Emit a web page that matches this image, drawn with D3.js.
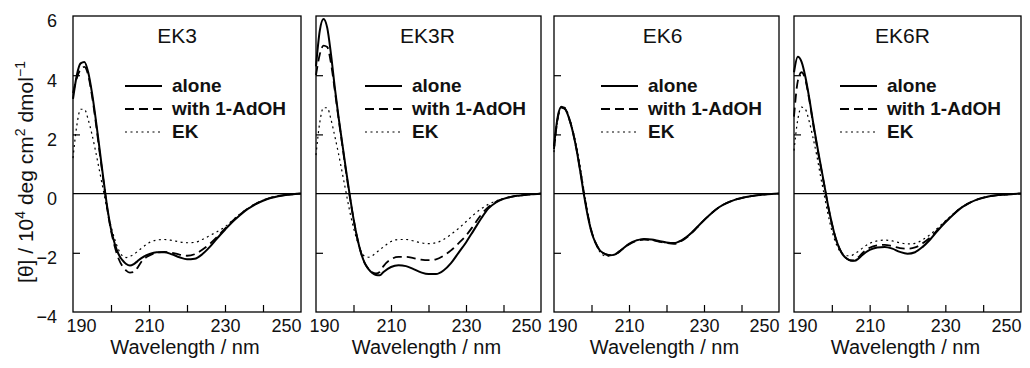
<!DOCTYPE html>
<html>
<head>
<meta charset="utf-8">
<script src="https://cdn.jsdelivr.net/npm/d3@7"></script>
<style>
  body { margin: 0; background: #fff; }
  svg { display: block; font-family: "Liberation Sans", Arial, sans-serif; }
</style>
</head>
<body>
<svg id="chart" width="1030" height="368"></svg>
<script>
// wavelength grid (nm) shared by every curve
const wavelengths = [190, 191, 192, 193, 194, 195, 196, 197, 198, 199, 200, 201, 202, 203, 204, 205, 206, 207, 208,
  210, 212, 214, 216, 218, 220, 222, 224, 226, 228, 230, 232, 234, 236, 238, 240, 242, 244, 246, 248, 250];

const panelTitles = ["EK3", "EK3R", "EK6", "EK6R"];
const seriesNames = ["alone", "with 1-AdOH", "EK"];

// [θ] / 10^4 deg cm2 dmol-1
const ek3Alone = [3.2, 4.0, 4.4, 4.45, 4.1, 3.4, 2.5, 1.5, 0.5, -0.45, -1.2, -1.7, -2.05, -2.25, -2.38, -2.43, -2.38, -2.28, -2.18,
  -2.05, -1.98, -1.98, -2.05, -2.15, -2.22, -2.2, -2.05, -1.8, -1.5, -1.22, -0.95, -0.72, -0.52, -0.36, -0.24, -0.15, -0.09, -0.05, -0.02, 0];
const ek3Adoh = [3.4, 3.9, 4.2, 4.28, 4.0, 3.3, 2.4, 1.4, 0.45, -0.5, -1.25, -1.8, -2.2, -2.45, -2.6, -2.67, -2.65, -2.5, -2.3,
  -2.1, -2.0, -1.97, -2.0, -2.06, -2.1, -2.05, -1.9, -1.7, -1.45, -1.18, -0.92, -0.7, -0.5, -0.35, -0.23, -0.14, -0.08, -0.04, -0.02, 0];
const ek3Ek = [1.2, 2.3, 2.85, 2.85, 2.5, 2.0, 1.4, 0.75, 0.1, -0.55, -1.1, -1.55, -1.9, -2.1, -2.16, -2.12, -2.05, -1.95, -1.85,
  -1.66, -1.57, -1.55, -1.58, -1.63, -1.66, -1.65, -1.55, -1.42, -1.28, -1.12, -0.9, -0.68, -0.5, -0.35, -0.23, -0.14, -0.08, -0.04, -0.02, 0];

const ek3rAlone = [4.3, 5.5, 5.9, 5.6, 4.7, 3.6, 2.6, 1.7, 0.8, -0.05, -0.85, -1.5, -2.0, -2.35, -2.55, -2.68, -2.75, -2.76, -2.65,
  -2.48, -2.42, -2.45, -2.55, -2.66, -2.72, -2.72, -2.6, -2.35, -2.0, -1.65, -1.25, -0.85, -0.5, -0.3, -0.18, -0.11, -0.07, -0.04, -0.02, 0];
const ek3rAdoh = [4.0, 4.7, 5.0, 4.95, 4.4, 3.5, 2.55, 1.65, 0.75, -0.1, -0.85, -1.5, -2.0, -2.35, -2.55, -2.66, -2.7, -2.65, -2.45,
  -2.22, -2.14, -2.14, -2.18, -2.23, -2.25, -2.22, -2.1, -1.92, -1.68, -1.42, -1.08, -0.72, -0.45, -0.28, -0.17, -0.11, -0.07, -0.04, -0.02, 0];
const ek3rEk = [1.3, 2.4, 2.9, 2.9, 2.5, 1.95, 1.35, 0.7, 0.05, -0.6, -1.15, -1.6, -1.95, -2.12, -2.15, -2.1, -2.0, -1.9, -1.8,
  -1.62, -1.55, -1.55, -1.6, -1.66, -1.69, -1.66, -1.55, -1.38, -1.18, -0.95, -0.72, -0.52, -0.36, -0.25, -0.17, -0.11, -0.07, -0.04, -0.02, 0];

const ek6Alone = [1.6, 2.6, 2.93, 2.85, 2.55, 2.1, 1.5, 0.75, -0.05, -0.75, -1.3, -1.65, -1.88, -2.0, -2.06, -2.08, -2.07, -2.0, -1.9,
  -1.7, -1.58, -1.53, -1.55, -1.6, -1.65, -1.67, -1.58, -1.4, -1.15, -0.9, -0.66, -0.46, -0.32, -0.22, -0.15, -0.1, -0.06, -0.03, -0.01, 0];
const ek6Adoh = [1.5, 2.55, 2.9, 2.85, 2.55, 2.1, 1.5, 0.78, 0.0, -0.7, -1.27, -1.63, -1.87, -2.0, -2.06, -2.08, -2.06, -2.0, -1.9,
  -1.72, -1.6, -1.55, -1.57, -1.62, -1.67, -1.7, -1.6, -1.42, -1.17, -0.9, -0.66, -0.46, -0.32, -0.22, -0.15, -0.1, -0.06, -0.03, -0.01, 0];
const ek6Ek = [1.4, 2.5, 2.95, 2.9, 2.6, 2.15, 1.6, 0.9, 0.1, -0.65, -1.25, -1.65, -1.92, -2.07, -2.12, -2.1, -2.05, -1.97, -1.88,
  -1.7, -1.58, -1.55, -1.57, -1.62, -1.66, -1.68, -1.58, -1.4, -1.15, -0.9, -0.66, -0.46, -0.32, -0.22, -0.15, -0.1, -0.06, -0.03, -0.01, 0];

const ek6rAlone = [4.1, 4.62, 4.45, 3.95, 3.25, 2.45, 1.7, 1.0, 0.3, -0.4, -1.0, -1.5, -1.85, -2.08, -2.2, -2.26, -2.27, -2.2, -2.08,
  -1.9, -1.82, -1.8, -1.86, -1.97, -2.03, -1.98, -1.8, -1.55, -1.25, -0.97, -0.72, -0.5, -0.34, -0.22, -0.14, -0.08, -0.05, -0.03, -0.01, 0];
const ek6rAdoh = [2.6, 3.8, 4.1, 3.85, 3.2, 2.4, 1.65, 0.95, 0.28, -0.42, -1.02, -1.5, -1.85, -2.08, -2.2, -2.26, -2.25, -2.15, -2.02,
  -1.83, -1.75, -1.73, -1.78, -1.84, -1.86, -1.82, -1.68, -1.48, -1.22, -0.96, -0.72, -0.5, -0.34, -0.22, -0.14, -0.08, -0.05, -0.03, -0.01, 0];
const ek6rEk = [1.45, 2.5, 2.92, 2.85, 2.45, 1.9, 1.3, 0.6, -0.05, -0.7, -1.25, -1.65, -1.92, -2.05, -2.1, -2.1, -2.03, -1.95, -1.85,
  -1.68, -1.6, -1.57, -1.6, -1.66, -1.7, -1.68, -1.56, -1.38, -1.16, -0.92, -0.7, -0.49, -0.33, -0.22, -0.14, -0.08, -0.05, -0.03, -0.01, 0];

const panelSeries = [
  [ek3Alone, ek3Adoh, ek3Ek],
  [ek3rAlone, ek3rAdoh, ek3rEk],
  [ek6Alone, ek6Adoh, ek6Ek],
  [ek6rAlone, ek6rAdoh, ek6rEk]
];

const xLabelTicks = [190, 210, 230, 250];
const xInnerTicks = [200, 210, 220, 230, 240];
const yLabelTicks = [-4, -2, 0, 2, 4, 6];
const yInnerTicks = [-2, 2, 4];

// layout
const panelBounds = [[73, 301], [316, 541], [554, 779], [794, 1021]];
const titleShift = [-10, -1, -4, -5];
const legendLeft = [52, 49, 47, 46];
const plotTop = 16, plotBottom = 312;
const lineStyles = [
  { width: 2, dash: null },
  { width: 1.8, dash: "9,5" },
  { width: 1.2, dash: "2,3.5" }
];

const svg = d3.select("#chart");

const y = d3.scaleLinear().domain([-4, 6]).range([plotBottom, plotTop]);

panelTitles.forEach((title, p) => {
  const [x0, x1] = panelBounds[p];
  const x = d3.scaleLinear().domain([190, 250]).range([x0, x1]);
  const g = svg.append("g");

  // zero line
  g.append("line")
    .attr("x1", x0).attr("x2", x1)
    .attr("y1", y(0)).attr("y2", y(0))
    .attr("stroke", "#000").attr("stroke-width", 1.1);

  // inward ticks
  const xt = g.append("g")
    .attr("transform", "translate(0," + plotBottom + ")")
    .call(d3.axisBottom(x).tickValues(xInnerTicks).tickSize(-7).tickFormat(""));
  xt.select(".domain").remove();
  xt.selectAll("line").attr("stroke-width", 1.2);

  const yt = g.append("g")
    .attr("transform", "translate(" + x0 + ",0)")
    .call(d3.axisLeft(y).tickValues(yInnerTicks).tickSize(-7).tickFormat(""));
  yt.select(".domain").remove();
  yt.selectAll("line").attr("stroke-width", 1.2);

  // x tick labels
  const xl = g.append("g")
    .attr("transform", "translate(0," + plotBottom + ")")
    .call(d3.axisBottom(x).tickValues(xLabelTicks).tickSize(0).tickPadding(7).tickFormat(d3.format("d")));
  xl.select(".domain").remove();
  xl.selectAll("text")
    .attr("font-size", 18)
    .attr("font-family", "Liberation Sans, Arial, sans-serif")
    .attr("fill", "#111")
    .attr("dx", d => d === 190 ? 8 : (d === 250 ? -15 : 0));

  // y tick labels on the first panel only
  if (p === 0) {
    const yl = g.append("g")
      .attr("transform", "translate(" + x0 + ",0)")
      .call(d3.axisLeft(y).tickValues(yLabelTicks).tickSize(0).tickPadding(16).tickFormat(d3.format("d")));
    yl.select(".domain").remove();
    yl.selectAll("text")
      .attr("font-size", 18)
      .attr("font-family", "Liberation Sans, Arial, sans-serif")
      .attr("fill", "#111")
      .attr("dy", "0.6em");
  }

  // curves
  const line = d3.line()
    .x((d, i) => x(wavelengths[i]))
    .y(d => y(d))
    .curve(d3.curveMonotoneX);

  panelSeries[p].forEach((values, s) => {
    g.append("path")
      .datum(values)
      .attr("d", line)
      .attr("fill", "none")
      .attr("stroke", "#000")
      .attr("stroke-width", lineStyles[s].width)
      .attr("stroke-dasharray", lineStyles[s].dash);
  });

  // frame
  g.append("rect")
    .attr("x", x0).attr("y", plotTop)
    .attr("width", x1 - x0).attr("height", plotBottom - plotTop)
    .attr("fill", "none").attr("stroke", "#000").attr("stroke-width", 1.3);

  // title
  g.append("text")
    .attr("x", (x0 + x1) / 2 + titleShift[p])
    .attr("y", 43)
    .attr("text-anchor", "middle")
    .attr("font-size", 21)
    .attr("fill", "#111")
    .text(title);

  // legend
  seriesNames.forEach((name, s) => {
    const ly = 92 + s * 23;
    const lx = x0 + legendLeft[p];
    g.append("line")
      .attr("x1", lx).attr("x2", lx + 37)
      .attr("y1", ly - 6).attr("y2", ly - 6)
      .attr("stroke", "#000")
      .attr("stroke-width", lineStyles[s].width)
      .attr("stroke-dasharray", lineStyles[s].dash);
    g.append("text")
      .attr("x", lx + 47)
      .attr("y", ly)
      .attr("font-size", 19)
      .attr("font-weight", "bold")
      .attr("fill", "#111")
      .text(name);
  });

  // x axis title
  g.append("text")
    .attr("x", (x0 + x1) / 2 - 2)
    .attr("y", 354)
    .attr("text-anchor", "middle")
    .attr("font-size", 20)
    .attr("fill", "#111")
    .text("Wavelength / nm");
});

// y axis title
const yTitle = svg.append("text")
  .attr("transform", "translate(33,172) rotate(-90)")
  .attr("text-anchor", "middle")
  .attr("font-size", 21)
  .attr("fill", "#111");
yTitle.append("tspan").text("[\u03b8] / 10");
yTitle.append("tspan").attr("dy", -8).attr("font-size", 14).text("4");
yTitle.append("tspan").attr("dy", 8).text(" deg cm");
yTitle.append("tspan").attr("dy", -8).attr("font-size", 14).text("2");
yTitle.append("tspan").attr("dy", 8).text(" dmol");
yTitle.append("tspan").attr("dy", -8).attr("font-size", 14).text("\u22121");
</script>
</body>
</html>
